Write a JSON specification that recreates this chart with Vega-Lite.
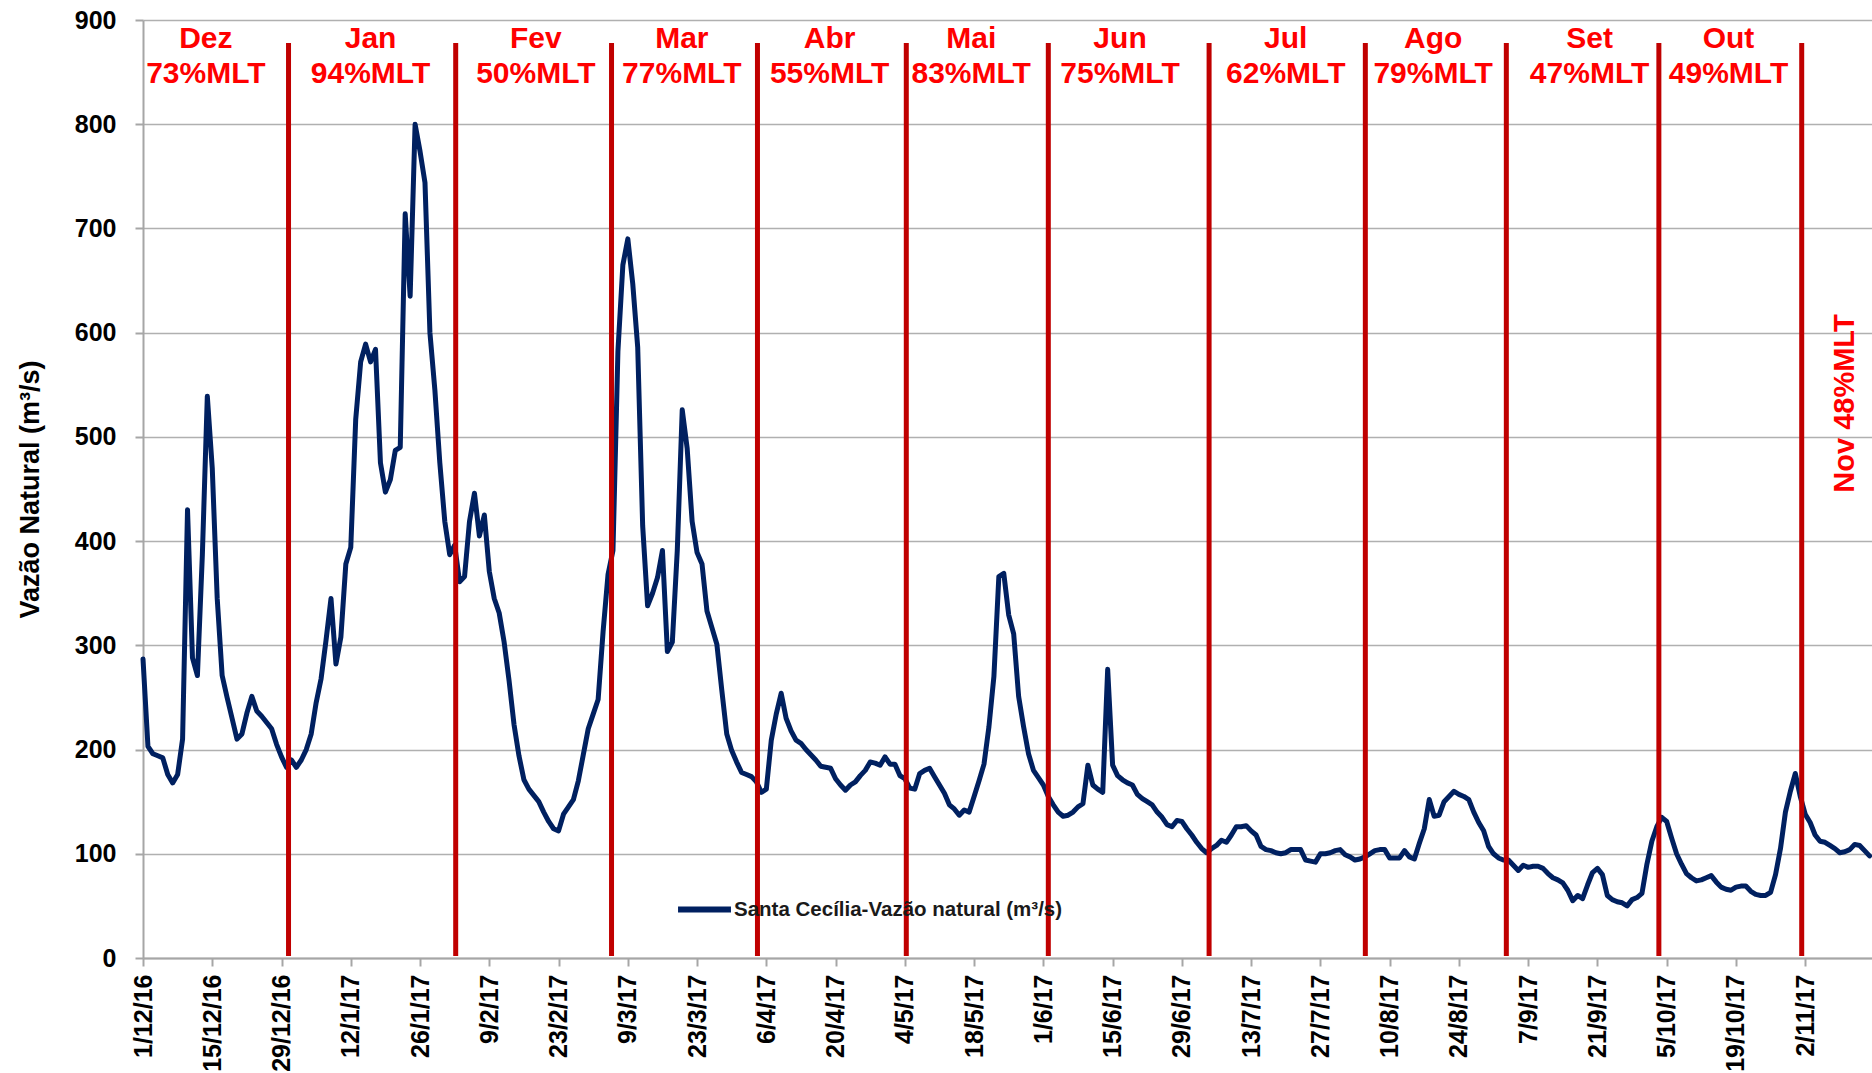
{
  "$schema": "https://vega.github.io/schema/vega-lite/v6.json",
  "width": 1729,
  "height": 938,
  "autosize": {"type": "none"},
  "padding": {"left": 143, "top": 20, "right": 0, "bottom": 115},
  "background": "white",
  "config": {
    "view": {"stroke": null},
    "font": "Liberation Sans",
    "axis": {
      "labelFont": "Liberation Sans",
      "labelFontWeight": "bold",
      "labelColor": "#000000",
      "titleFont": "Liberation Sans",
      "titleFontWeight": "bold",
      "titleColor": "#000000",
      "domainColor": "#a6a6a6",
      "domainWidth": 2,
      "tickColor": "#a6a6a6",
      "tickWidth": 2,
      "gridColor": "#b0b0b0",
      "gridWidth": 1.5
    }
  },
  "data": {
    "values": [
      {"d":"2016-12-01","v":287},{"d":"2016-12-02","v":203},{"d":"2016-12-03","v":196},{"d":"2016-12-04","v":194},{"d":"2016-12-05","v":192},{"d":"2016-12-06","v":176},{"d":"2016-12-07","v":168},{"d":"2016-12-08","v":176},{"d":"2016-12-09","v":210},{"d":"2016-12-10","v":430},{"d":"2016-12-11","v":288},{"d":"2016-12-12","v":271},{"d":"2016-12-13","v":387},{"d":"2016-12-14","v":539},{"d":"2016-12-15","v":470},{"d":"2016-12-16","v":345},{"d":"2016-12-17","v":271},{"d":"2016-12-18","v":250},{"d":"2016-12-19","v":230},{"d":"2016-12-20","v":210},{"d":"2016-12-21","v":215},{"d":"2016-12-22","v":235},{"d":"2016-12-23","v":251},{"d":"2016-12-24","v":237},{"d":"2016-12-25","v":232},{"d":"2016-12-26","v":226},{"d":"2016-12-27","v":220},{"d":"2016-12-28","v":205},{"d":"2016-12-29","v":193},{"d":"2016-12-30","v":183},{"d":"2016-12-31","v":190},
      {"d":"2017-01-01","v":183},{"d":"2017-01-02","v":190},{"d":"2017-01-03","v":200},{"d":"2017-01-04","v":215},{"d":"2017-01-05","v":245},{"d":"2017-01-06","v":268},{"d":"2017-01-07","v":305},{"d":"2017-01-08","v":345},{"d":"2017-01-09","v":282},{"d":"2017-01-10","v":308},{"d":"2017-01-11","v":378},{"d":"2017-01-12","v":394},{"d":"2017-01-13","v":517},{"d":"2017-01-14","v":572},{"d":"2017-01-15","v":589},{"d":"2017-01-16","v":572},{"d":"2017-01-17","v":584},{"d":"2017-01-18","v":475},{"d":"2017-01-19","v":447},{"d":"2017-01-20","v":459},{"d":"2017-01-21","v":487},{"d":"2017-01-22","v":490},{"d":"2017-01-23","v":714},{"d":"2017-01-24","v":635},{"d":"2017-01-25","v":800},{"d":"2017-01-26","v":774},{"d":"2017-01-27","v":744},{"d":"2017-01-28","v":600},{"d":"2017-01-29","v":545},{"d":"2017-01-30","v":475},{"d":"2017-01-31","v":419},
      {"d":"2017-02-01","v":387},{"d":"2017-02-02","v":396},{"d":"2017-02-03","v":361},{"d":"2017-02-04","v":366},{"d":"2017-02-05","v":419},{"d":"2017-02-06","v":446},{"d":"2017-02-07","v":405},{"d":"2017-02-08","v":425},{"d":"2017-02-09","v":371},{"d":"2017-02-10","v":345},{"d":"2017-02-11","v":331},{"d":"2017-02-12","v":303},{"d":"2017-02-13","v":266},{"d":"2017-02-14","v":224},{"d":"2017-02-15","v":194},{"d":"2017-02-16","v":171},{"d":"2017-02-17","v":162},{"d":"2017-02-18","v":156},{"d":"2017-02-19","v":150},{"d":"2017-02-20","v":140},{"d":"2017-02-21","v":131},{"d":"2017-02-22","v":124},{"d":"2017-02-23","v":122},{"d":"2017-02-24","v":138},{"d":"2017-02-25","v":145},{"d":"2017-02-26","v":152},{"d":"2017-02-27","v":170},{"d":"2017-02-28","v":195},
      {"d":"2017-03-01","v":220},{"d":"2017-03-02","v":234},{"d":"2017-03-03","v":248},{"d":"2017-03-04","v":313},{"d":"2017-03-05","v":368},{"d":"2017-03-06","v":391},{"d":"2017-03-07","v":582},{"d":"2017-03-08","v":665},{"d":"2017-03-09","v":690},{"d":"2017-03-10","v":647},{"d":"2017-03-11","v":586},{"d":"2017-03-12","v":415},{"d":"2017-03-13","v":338},{"d":"2017-03-14","v":350},{"d":"2017-03-15","v":365},{"d":"2017-03-16","v":391},{"d":"2017-03-17","v":294},{"d":"2017-03-18","v":303},{"d":"2017-03-19","v":391},{"d":"2017-03-20","v":526},{"d":"2017-03-21","v":489},{"d":"2017-03-22","v":419},{"d":"2017-03-23","v":389},{"d":"2017-03-24","v":378},{"d":"2017-03-25","v":333},{"d":"2017-03-26","v":317},{"d":"2017-03-27","v":301},{"d":"2017-03-28","v":257},{"d":"2017-03-29","v":215},{"d":"2017-03-30","v":199},{"d":"2017-03-31","v":188},
      {"d":"2017-04-01","v":178},{"d":"2017-04-02","v":176},{"d":"2017-04-03","v":174},{"d":"2017-04-04","v":169},{"d":"2017-04-05","v":159},{"d":"2017-04-06","v":162},{"d":"2017-04-07","v":209},{"d":"2017-04-08","v":234},{"d":"2017-04-09","v":254},{"d":"2017-04-10","v":230},{"d":"2017-04-11","v":218},{"d":"2017-04-12","v":209},{"d":"2017-04-13","v":206},{"d":"2017-04-14","v":200},{"d":"2017-04-15","v":195},{"d":"2017-04-16","v":190},{"d":"2017-04-17","v":184},{"d":"2017-04-18","v":183},{"d":"2017-04-19","v":182},{"d":"2017-04-20","v":172},{"d":"2017-04-21","v":166},{"d":"2017-04-22","v":161},{"d":"2017-04-23","v":166},{"d":"2017-04-24","v":169},{"d":"2017-04-25","v":175},{"d":"2017-04-26","v":180},{"d":"2017-04-27","v":188},{"d":"2017-04-28","v":187},{"d":"2017-04-29","v":185},{"d":"2017-04-30","v":193},
      {"d":"2017-05-01","v":186},{"d":"2017-05-02","v":186},{"d":"2017-05-03","v":175},{"d":"2017-05-04","v":172},{"d":"2017-05-05","v":163},{"d":"2017-05-06","v":162},{"d":"2017-05-07","v":177},{"d":"2017-05-08","v":180},{"d":"2017-05-09","v":182},{"d":"2017-05-10","v":174},{"d":"2017-05-11","v":166},{"d":"2017-05-12","v":158},{"d":"2017-05-13","v":147},{"d":"2017-05-14","v":143},{"d":"2017-05-15","v":137},{"d":"2017-05-16","v":142},{"d":"2017-05-17","v":140},{"d":"2017-05-18","v":155},{"d":"2017-05-19","v":170},{"d":"2017-05-20","v":186},{"d":"2017-05-21","v":222},{"d":"2017-05-22","v":270},{"d":"2017-05-23","v":366},{"d":"2017-05-24","v":369},{"d":"2017-05-25","v":329},{"d":"2017-05-26","v":311},{"d":"2017-05-27","v":251},{"d":"2017-05-28","v":222},{"d":"2017-05-29","v":196},{"d":"2017-05-30","v":180},{"d":"2017-05-31","v":173},
      {"d":"2017-06-01","v":166},{"d":"2017-06-02","v":155},{"d":"2017-06-03","v":147},{"d":"2017-06-04","v":140},{"d":"2017-06-05","v":136},{"d":"2017-06-06","v":137},{"d":"2017-06-07","v":140},{"d":"2017-06-08","v":145},{"d":"2017-06-09","v":148},{"d":"2017-06-10","v":185},{"d":"2017-06-11","v":166},{"d":"2017-06-12","v":162},{"d":"2017-06-13","v":159},{"d":"2017-06-14","v":277},{"d":"2017-06-15","v":185},{"d":"2017-06-16","v":175},{"d":"2017-06-17","v":171},{"d":"2017-06-18","v":168},{"d":"2017-06-19","v":166},{"d":"2017-06-20","v":157},{"d":"2017-06-21","v":153},{"d":"2017-06-22","v":150},{"d":"2017-06-23","v":147},{"d":"2017-06-24","v":140},{"d":"2017-06-25","v":135},{"d":"2017-06-26","v":128},{"d":"2017-06-27","v":126},{"d":"2017-06-28","v":132},{"d":"2017-06-29","v":131},{"d":"2017-06-30","v":124},
      {"d":"2017-07-01","v":118},{"d":"2017-07-02","v":111},{"d":"2017-07-03","v":105},{"d":"2017-07-04","v":101},{"d":"2017-07-05","v":105},{"d":"2017-07-06","v":108},{"d":"2017-07-07","v":113},{"d":"2017-07-08","v":111},{"d":"2017-07-09","v":118},{"d":"2017-07-10","v":126},{"d":"2017-07-11","v":126},{"d":"2017-07-12","v":127},{"d":"2017-07-13","v":122},{"d":"2017-07-14","v":118},{"d":"2017-07-15","v":107},{"d":"2017-07-16","v":104},{"d":"2017-07-17","v":103},{"d":"2017-07-18","v":101},{"d":"2017-07-19","v":100},{"d":"2017-07-20","v":101},{"d":"2017-07-21","v":104},{"d":"2017-07-22","v":104},{"d":"2017-07-23","v":104},{"d":"2017-07-24","v":94},{"d":"2017-07-25","v":93},{"d":"2017-07-26","v":92},{"d":"2017-07-27","v":100},{"d":"2017-07-28","v":100},{"d":"2017-07-29","v":101},{"d":"2017-07-30","v":103},{"d":"2017-07-31","v":104},
      {"d":"2017-08-01","v":99},{"d":"2017-08-02","v":97},{"d":"2017-08-03","v":94},{"d":"2017-08-04","v":95},{"d":"2017-08-05","v":97},{"d":"2017-08-06","v":100},{"d":"2017-08-07","v":103},{"d":"2017-08-08","v":104},{"d":"2017-08-09","v":104},{"d":"2017-08-10","v":96},{"d":"2017-08-11","v":96},{"d":"2017-08-12","v":96},{"d":"2017-08-13","v":103},{"d":"2017-08-14","v":97},{"d":"2017-08-15","v":95},{"d":"2017-08-16","v":110},{"d":"2017-08-17","v":124},{"d":"2017-08-18","v":152},{"d":"2017-08-19","v":136},{"d":"2017-08-20","v":137},{"d":"2017-08-21","v":150},{"d":"2017-08-22","v":155},{"d":"2017-08-23","v":160},{"d":"2017-08-24","v":157},{"d":"2017-08-25","v":155},{"d":"2017-08-26","v":152},{"d":"2017-08-27","v":140},{"d":"2017-08-28","v":130},{"d":"2017-08-29","v":122},{"d":"2017-08-30","v":107},{"d":"2017-08-31","v":100},
      {"d":"2017-09-01","v":96},{"d":"2017-09-02","v":94},{"d":"2017-09-03","v":94},{"d":"2017-09-04","v":89},{"d":"2017-09-05","v":84},{"d":"2017-09-06","v":89},{"d":"2017-09-07","v":87},{"d":"2017-09-08","v":88},{"d":"2017-09-09","v":88},{"d":"2017-09-10","v":86},{"d":"2017-09-11","v":81},{"d":"2017-09-12","v":77},{"d":"2017-09-13","v":75},{"d":"2017-09-14","v":72},{"d":"2017-09-15","v":65},{"d":"2017-09-16","v":55},{"d":"2017-09-17","v":60},{"d":"2017-09-18","v":57},{"d":"2017-09-19","v":70},{"d":"2017-09-20","v":82},{"d":"2017-09-21","v":86},{"d":"2017-09-22","v":80},{"d":"2017-09-23","v":60},{"d":"2017-09-24","v":56},{"d":"2017-09-25","v":54},{"d":"2017-09-26","v":53},{"d":"2017-09-27","v":50},{"d":"2017-09-28","v":56},{"d":"2017-09-29","v":58},{"d":"2017-09-30","v":62},
      {"d":"2017-10-01","v":90},{"d":"2017-10-02","v":112},{"d":"2017-10-03","v":126},{"d":"2017-10-04","v":135},{"d":"2017-10-05","v":131},{"d":"2017-10-06","v":115},{"d":"2017-10-07","v":100},{"d":"2017-10-08","v":90},{"d":"2017-10-09","v":81},{"d":"2017-10-10","v":77},{"d":"2017-10-11","v":74},{"d":"2017-10-12","v":75},{"d":"2017-10-13","v":77},{"d":"2017-10-14","v":79},{"d":"2017-10-15","v":73},{"d":"2017-10-16","v":68},{"d":"2017-10-17","v":66},{"d":"2017-10-18","v":65},{"d":"2017-10-19","v":68},{"d":"2017-10-20","v":69},{"d":"2017-10-21","v":69},{"d":"2017-10-22","v":64},{"d":"2017-10-23","v":61},{"d":"2017-10-24","v":60},{"d":"2017-10-25","v":60},{"d":"2017-10-26","v":63},{"d":"2017-10-27","v":80},{"d":"2017-10-28","v":105},{"d":"2017-10-29","v":140},{"d":"2017-10-30","v":160},{"d":"2017-10-31","v":177},
      {"d":"2017-11-01","v":155},{"d":"2017-11-02","v":138},{"d":"2017-11-03","v":130},{"d":"2017-11-04","v":118},{"d":"2017-11-05","v":112},{"d":"2017-11-06","v":111},{"d":"2017-11-07","v":108},{"d":"2017-11-08","v":105},{"d":"2017-11-09","v":101},{"d":"2017-11-10","v":102},{"d":"2017-11-11","v":104},{"d":"2017-11-12","v":109},{"d":"2017-11-13","v":108},{"d":"2017-11-14","v":103},{"d":"2017-11-15","v":98}
    ],
    "format": {"parse": {"d": "date:'%Y-%m-%d'"}}
  },
  "layer": [
    {
      "mark": {"type": "line", "strokeWidth": 5, "strokeJoin": "round", "strokeCap": "round"},
      "encoding": {
        "x": {
          "field": "d",
          "type": "temporal",
          "scale": {
            "domain": [{"year": 2016, "month": 12, "date": 1}, {"year": 2017, "month": 11, "date": 15, "hours": 12}],
            "nice": false
          },
          "axis": {
            "title": null,
            "grid": false,
            "format": "%-d/%-m/%y",
            "values": [
              {"year": 2016, "month": 12, "date": 1}, {"year": 2016, "month": 12, "date": 15}, {"year": 2016, "month": 12, "date": 29},
              {"year": 2017, "month": 1, "date": 12}, {"year": 2017, "month": 1, "date": 26}, {"year": 2017, "month": 2, "date": 9},
              {"year": 2017, "month": 2, "date": 23}, {"year": 2017, "month": 3, "date": 9}, {"year": 2017, "month": 3, "date": 23},
              {"year": 2017, "month": 4, "date": 6}, {"year": 2017, "month": 4, "date": 20}, {"year": 2017, "month": 5, "date": 4},
              {"year": 2017, "month": 5, "date": 18}, {"year": 2017, "month": 6, "date": 1}, {"year": 2017, "month": 6, "date": 15},
              {"year": 2017, "month": 6, "date": 29}, {"year": 2017, "month": 7, "date": 13}, {"year": 2017, "month": 7, "date": 27},
              {"year": 2017, "month": 8, "date": 10}, {"year": 2017, "month": 8, "date": 24}, {"year": 2017, "month": 9, "date": 7},
              {"year": 2017, "month": 9, "date": 21}, {"year": 2017, "month": 10, "date": 5}, {"year": 2017, "month": 10, "date": 19},
              {"year": 2017, "month": 11, "date": 2}
            ],
            "labelAngle": 270,
            "labelFontSize": 25,
            "labelPadding": 8,
            "tickSize": 8,
            "labelOverlap": false,
            "labelBound": false,
            "labelFlush": false
          }
        },
        "y": {
          "field": "v",
          "type": "quantitative",
          "scale": {"domain": [0, 900], "nice": false},
          "axis": {
            "title": "Vazão Natural  (m³/s)",
            "titleFontSize": 27,
            "titlePadding": 30,
            "values": [0, 100, 200, 300, 400, 500, 600, 700, 800, 900],
            "labelFontSize": 25,
            "tickSize": 8,
            "labelPadding": 19,
            "grid": true
          }
        },
        "color": {
          "datum": "Santa Cecília-Vazão natural (m³/s)",
          "type": "nominal",
          "scale": {"range": ["#002060"]},
          "legend": {
            "orient": "none",
            "legendX": 532,
            "legendY": 860,
            "title": null,
            "symbolType": "stroke",
            "symbolSize": 2800,
            "symbolStrokeWidth": 6,
            "labelFont": "Liberation Sans",
            "labelFontSize": 20.5,
            "labelFontWeight": "bold",
            "labelColor": "#1a1a1a",
            "labelOffset": 0,
            "labelLimit": 0
          }
        }
      }
    },
    {
      "data": {
        "values": [
          {"d": "2016-12-30 10:00"}, {"d": "2017-02-02 05:00"}, {"d": "2017-03-05 17:00"}, {"d": "2017-04-04 05:00"},
          {"d": "2017-05-04 07:00"}, {"d": "2017-06-02 00:00"}, {"d": "2017-07-04 12:00"}, {"d": "2017-08-05 02:00"},
          {"d": "2017-09-02 14:00"}, {"d": "2017-10-03 10:00"}, {"d": "2017-11-01 07:00"}
        ],
        "format": {"parse": {"d": "date:'%Y-%m-%d %H:%M'"}}
      },
      "mark": {"type": "rule", "color": "#c00000", "strokeWidth": 5},
      "encoding": {
        "x": {"field": "d", "type": "temporal"},
        "y": {"datum": 2},
        "y2": {"datum": 878}
      }
    },
    {
      "data": {
        "values": [
          {"d": "2016-12-13 17:00", "mes": "Dez", "mlt": "73%MLT"},
          {"d": "2017-01-16 00:00", "mes": "Jan", "mlt": "94%MLT"},
          {"d": "2017-02-18 10:00", "mes": "Fev", "mlt": "50%MLT"},
          {"d": "2017-03-19 22:00", "mes": "Mar", "mlt": "77%MLT"},
          {"d": "2017-04-18 19:00", "mes": "Abr", "mlt": "55%MLT"},
          {"d": "2017-05-17 10:00", "mes": "Mai", "mlt": "83%MLT"},
          {"d": "2017-06-16 12:00", "mes": "Jun", "mlt": "75%MLT"},
          {"d": "2017-07-20 00:00", "mes": "Jul", "mlt": "62%MLT"},
          {"d": "2017-08-18 19:00", "mes": "Ago", "mlt": "79%MLT"},
          {"d": "2017-09-19 10:00", "mes": "Set", "mlt": "47%MLT"},
          {"d": "2017-10-17 12:00", "mes": "Out", "mlt": "49%MLT"}
        ],
        "format": {"parse": {"d": "date:'%Y-%m-%d %H:%M'"}}
      },
      "layer": [
        {
          "mark": {"type": "text", "font": "Liberation Sans", "fontWeight": "bold", "fontSize": 30, "color": "#ff0000", "align": "center", "baseline": "middle"},
          "encoding": {
            "x": {"field": "d", "type": "temporal"},
            "y": {"datum": 882},
            "text": {"field": "mes"}
          }
        },
        {
          "mark": {"type": "text", "font": "Liberation Sans", "fontWeight": "bold", "fontSize": 30, "color": "#ff0000", "align": "center", "baseline": "middle"},
          "encoding": {
            "x": {"field": "d", "type": "temporal"},
            "y": {"datum": 848},
            "text": {"field": "mlt"}
          }
        }
      ]
    },
    {
      "data": {
        "values": [{"d": "2017-11-10 02:00", "t": "Nov 48%MLT"}],
        "format": {"parse": {"d": "date:'%Y-%m-%d %H:%M'"}}
      },
      "mark": {"type": "text", "font": "Liberation Sans", "fontWeight": "bold", "fontSize": 29, "color": "#ff0000", "align": "center", "baseline": "middle", "angle": 270},
      "encoding": {
        "x": {"field": "d", "type": "temporal"},
        "y": {"datum": 532},
        "text": {"field": "t"}
      }
    }
  ]
}
